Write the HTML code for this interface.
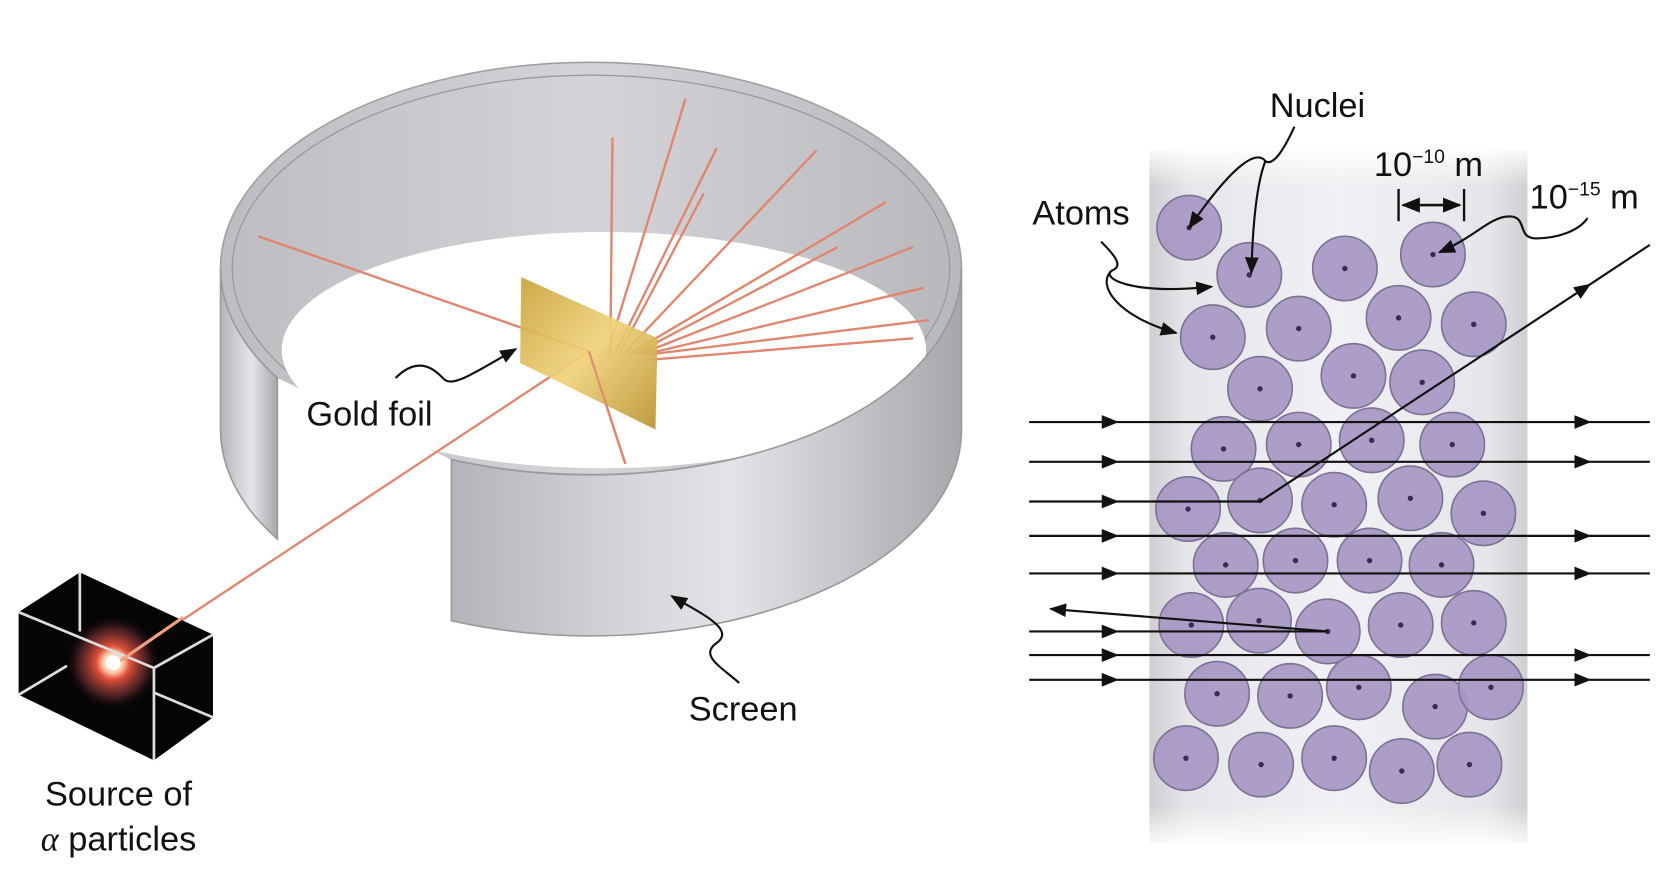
<!DOCTYPE html>
<html><head><meta charset="utf-8"><style>
html,body{margin:0;padding:0;background:#fff;}
svg{display:block;}
text{font-family:"Liberation Sans",sans-serif;fill:#111;}
</style></head><body>
<svg id="fig" width="1676" height="872" viewBox="0 0 1560 812" xmlns="http://www.w3.org/2000/svg">
<defs>
<linearGradient id="wallG" x1="0" x2="1" y1="0" y2="0">
<stop offset="0" stop-color="#b4b4b8"/><stop offset="0.35" stop-color="#d6d6da"/><stop offset="0.55" stop-color="#e4e4e8"/><stop offset="0.8" stop-color="#c2c2c6"/><stop offset="1" stop-color="#a8a8ac"/></linearGradient>
<linearGradient id="innerG" x1="0" x2="1"><stop offset="0" stop-color="#bdbdc1"/><stop offset="0.5" stop-color="#d4d4d8"/><stop offset="1" stop-color="#b8b8bc"/></linearGradient>
<linearGradient id="goldG" x1="0" x2="1" y1="0" y2="1"><stop offset="0" stop-color="#c9a23a"/><stop offset="0.5" stop-color="#f0d27a"/><stop offset="1" stop-color="#b8912e"/></linearGradient>
<linearGradient id="colG" x1="0" x2="1"><stop offset="0" stop-color="#cfcfd3"/><stop offset="0.1" stop-color="#e6e6ea"/><stop offset="0.5" stop-color="#f1f0f4"/><stop offset="0.9" stop-color="#e6e6ea"/><stop offset="1" stop-color="#cfcfd3"/></linearGradient>
<linearGradient id="colV" x1="0" x2="0" y1="0" y2="1"><stop offset="0" stop-color="#fff" stop-opacity="1"/><stop offset="0.06" stop-color="#fff" stop-opacity="0"/><stop offset="0.94" stop-color="#fff" stop-opacity="0"/><stop offset="1" stop-color="#fff" stop-opacity="1"/></linearGradient>
<radialGradient id="glow"><stop offset="0" stop-color="#fff"/><stop offset="0.2" stop-color="#ffd0b0"/><stop offset="0.35" stop-color="#e0503a"/><stop offset="0.7" stop-color="#6a2a30" stop-opacity="0.7"/><stop offset="1" stop-color="#000" stop-opacity="0"/></radialGradient>
<marker id="ar" viewBox="0 0 10 10" refX="9" refY="5" markerWidth="8" markerHeight="8" orient="auto"><path d="M0,1 L10,5 L0,9 Z" fill="#111"/></marker>
</defs>

<g>
<ellipse cx="550" cy="250" rx="345" ry="192" fill="url(#innerG)" stroke="#a0a0a4" stroke-width="1.5"/>
<ellipse cx="550" cy="250" rx="334" ry="180" fill="none" stroke="#9a9a9e" stroke-width="1.2"/>
<ellipse cx="562" cy="326" rx="300" ry="110" fill="#fff"/>
<path d="M258,352 L420,428 L420,460 L258,470 Z" fill="#fff"/>
<path d="M420,428 A345,192 0 0 0 895,250 L895,400 A345,192 0 0 1 420,578 Z" fill="url(#wallG)" stroke="#9a9a9e" stroke-width="1.5"/>
<path d="M205,250 A345,192 0 0 0 258,352 L258,502 A345,192 0 0 1 205,400 Z" fill="url(#wallG)" stroke="#9a9a9e" stroke-width="1.5"/>
</g>

<g stroke="#e0866e" stroke-width="2.2" fill="none">
<line x1="105" y1="620" x2="548" y2="327"/>
<line x1="548" y1="327" x2="240" y2="220"/>
<line x1="548" y1="327" x2="582" y2="432"/>
<line x1="565" y1="330" x2="638" y2="92"/>
<line x1="568" y1="330" x2="570" y2="128"/>
<line x1="572" y1="330" x2="667" y2="138"/>
<line x1="576" y1="330" x2="655" y2="180"/>
<line x1="580" y1="330" x2="760" y2="140"/>
<line x1="585" y1="330" x2="825" y2="188"/>
<line x1="590" y1="330" x2="780" y2="230"/>
<line x1="595" y1="330" x2="850" y2="230"/>
<line x1="600" y1="330" x2="860" y2="268"/>
<line x1="605" y1="330" x2="865" y2="298"/>
<line x1="605" y1="335" x2="850" y2="315"/>
</g>
<polygon points="485,258 612,315 610,400 484,338" fill="url(#goldG)" opacity="0.92"/>
<line x1="548" y1="327" x2="582" y2="432" stroke="#e0866e" stroke-width="2.2" opacity="0.8"/>

<g>
<polygon points="74,533 17,570 17,647 143,708 198,668 198,591" fill="#050505"/>
<circle cx="105" cy="617" r="45" fill="url(#glow)"/>
<g stroke="#ddd" stroke-width="2.5" fill="none">
<path d="M17,570 L143,622 L198,591 M143,622 L143,708 M74,533 L74,588 M17,647 L62,620 M143,645 L198,668"/>
</g>
<line x1="105" y1="620" x2="170" y2="575" stroke="#f0a080" stroke-width="3"/>
<circle cx="105" cy="617" r="7" fill="#fff"/>
</g>

<text x="285" y="396" font-size="32">Gold foil</text>
<path d="M368,352 C390,330 405,345 412,352 C420,362 440,348 480,325" fill="none" stroke="#111" stroke-width="2" marker-end="url(#ar)"/>
<text x="641" y="671" font-size="32">Screen</text>
<path d="M688,636 C670,620 650,610 668,598 C684,585 650,570 625,555" fill="none" stroke="#111" stroke-width="2" marker-end="url(#ar)"/>
<text x="110" y="750" font-size="32" text-anchor="middle">Source of</text>
<text x="110" y="792" font-size="32" text-anchor="middle"><tspan font-family="Liberation Serif" font-style="italic">α</tspan> particles</text>

<rect x="1070" y="140" width="352" height="645" fill="url(#colG)"/>
<rect x="1066" y="135" width="360" height="655" fill="url(#colV)"/>
<g id="atoms"></g>
<g id="paths"></g>

<text x="1182" y="109" font-size="32">Nuclei</text>
<path d="M1205,118 C1195,140 1185,155 1178,150 C1170,140 1150,150 1107,212" fill="none" stroke="#111" stroke-width="2" marker-end="url(#ar)"/>
<path d="M1178,150 C1170,170 1166,210 1165,254" fill="none" stroke="#111" stroke-width="2" marker-end="url(#ar)"/>
<text x="961" y="209" font-size="32">Atoms</text>
<path d="M1025,225 C1040,240 1045,248 1035,252 C1025,258 1050,275 1128,267" fill="none" stroke="#111" stroke-width="2" marker-end="url(#ar)"/>
<path d="M1035,252 C1020,265 1040,295 1095,310" fill="none" stroke="#111" stroke-width="2" marker-end="url(#ar)"/>
<text x="1279" y="164" font-size="32">10<tspan font-size="18" dy="-12">−10</tspan><tspan dy="12"> m</tspan></text>
<g stroke="#111" stroke-width="2.2">
<line x1="1302" y1="176" x2="1302" y2="206"/><line x1="1363" y1="176" x2="1363" y2="206"/>
<line x1="1306" y1="191" x2="1359" y2="191" marker-end="url(#ar)"/>
<line x1="1359" y1="191" x2="1306" y2="191" marker-end="url(#ar)"/>
</g>
<text x="1424" y="194" font-size="32">10<tspan font-size="18" dy="-12">−15</tspan><tspan dy="12"> m</tspan></text>
<path d="M1478,203 C1470,215 1450,222 1430,222 C1410,222 1425,198 1400,202 C1385,205 1370,222 1340,235" fill="none" stroke="#111" stroke-width="2" marker-end="url(#ar)"/>
</svg>
<script>
const atomX=[1107,1163,1252,1334,1129,1209,1302,1372,1173,1260,1324,1139,1209,1277,1352,1106,1173,1242,1313,1381,1141,1206,1275,1342,1109,1172,1236,1304,1372,1133,1201,1265,1336,1388,1104,1174,1242,1305,1368];
const atomY=[212,256,250,237,314,306,296,302,362,350,356,418,414,410,414,474,466,470,464,478,526,522,522,526,582,578,588,582,580,646,648,640,658,640,706,712,706,718,712];
const straightY=[393,430,499,534,610,633];
const NS='http://www.w3.org/2000/svg';
const ag=document.getElementById('atoms');
atomX.forEach((x,i)=>{
  const c=document.createElementNS(NS,'circle');
  c.setAttribute('cx',x);c.setAttribute('cy',atomY[i]);c.setAttribute('r',30);
  c.setAttribute('fill','#a797c4');c.setAttribute('stroke','#7c7294');c.setAttribute('stroke-width','1.5');c.setAttribute('fill-opacity','0.92');
  
  
  ag.appendChild(c);
  const d=document.createElementNS(NS,'circle');
  d.setAttribute('cx',x);d.setAttribute('cy',atomY[i]);d.setAttribute('r',2.5);d.setAttribute('fill','#3a2a55');
  
  
  ag.appendChild(d);
});
const pg=document.getElementById('paths');
function ln(x1,y1,x2,y2,arrow){
  const l=document.createElementNS(NS,'line');
  l.setAttribute('x1',x1);l.setAttribute('y1',y1);l.setAttribute('x2',x2);l.setAttribute('y2',y2);
  l.setAttribute('stroke','#111');l.setAttribute('stroke-width','2');
  if(arrow)l.setAttribute('marker-end','url(#ar)');
  
  
  pg.appendChild(l);
}
straightY.forEach(y=>{ln(958,y,1040,y,true);ln(1040,y,1480,y,true);ln(1480,y,1536,y,false);});
ln(958,467,1040,467,true);ln(1040,467,1173,467,false);ln(1173,467,1480,265,true);ln(1480,265,1536,228,false);
ln(958,588,1040,588,true);ln(1040,588,1236,588,false);ln(1236,588,978,567,true);
</script>
</body></html>
